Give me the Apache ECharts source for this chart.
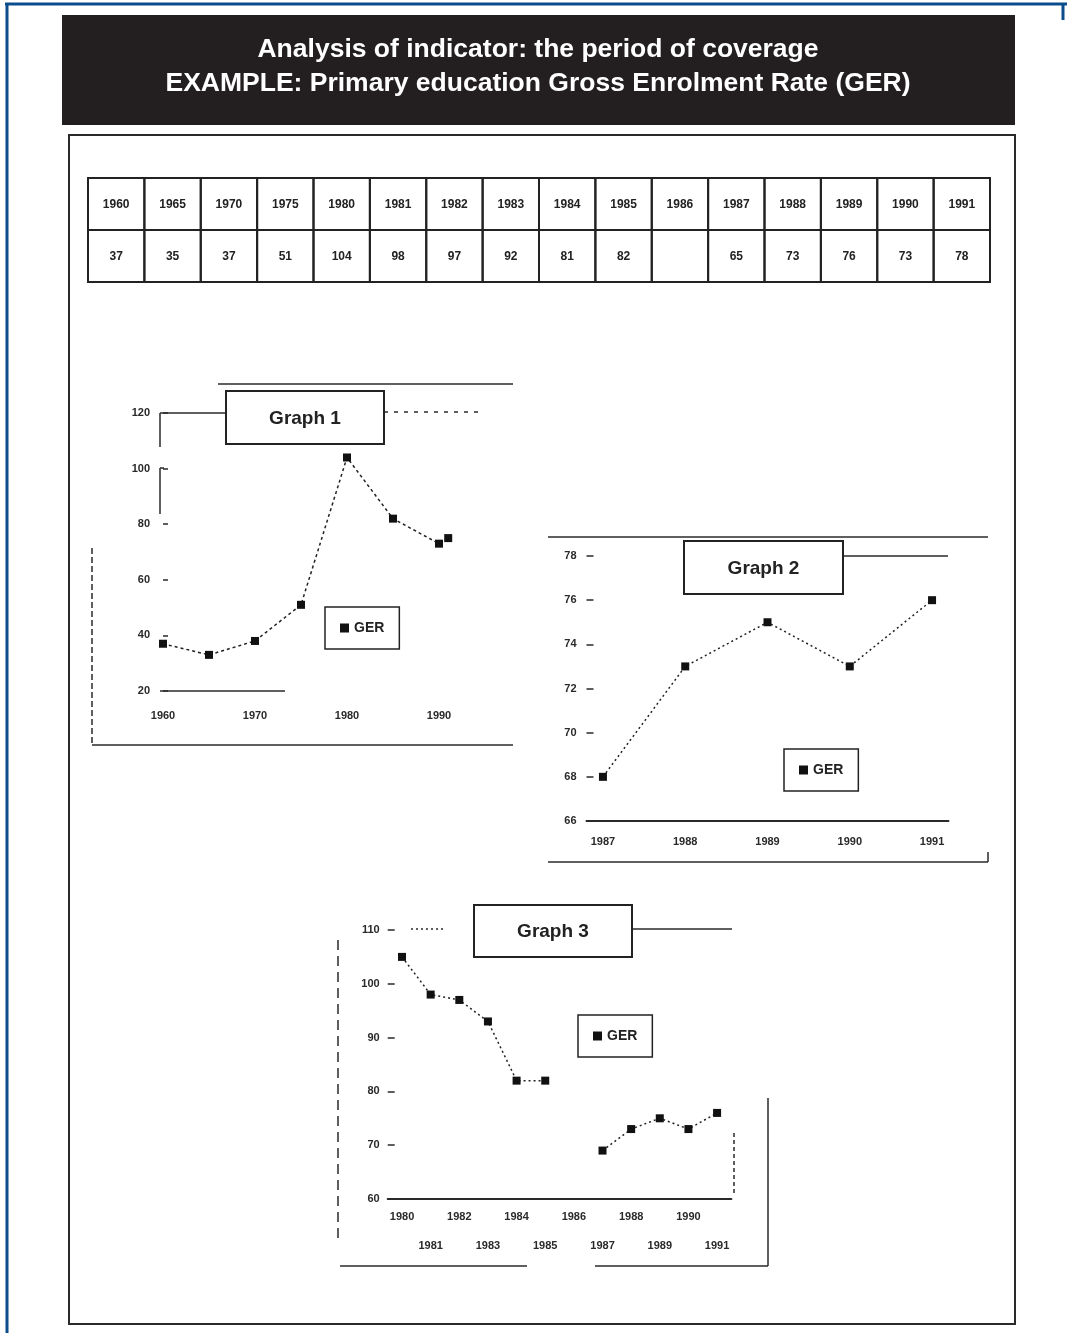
<!DOCTYPE html>
<html>
<head>
<meta charset="utf-8">
<title>Analysis of indicator: the period of coverage</title>
<script src="https://cdn.jsdelivr.net/npm/echarts@6/dist/echarts.min.js"></script>
<style>
  html, body { margin: 0; padding: 0; background: #fff; }
  #main { width: 1067px; height: 1333px; }
</style>
</head>
<body>
<div id="main"></div>
<script>
// table at the top of the sheet
var tableYears = ['1960', '1965', '1970', '1975', '1980', '1981', '1982', '1983',
  '1984', '1985', '1986', '1987', '1988', '1989', '1990', '1991'];
var tableValues = ['37', '35', '37', '51', '104', '98', '97', '92',
  '81', '82', '', '65', '73', '76', '73', '78'];

// graph 1 : 1960 - 1991
var g1Years = [1960, 1965, 1970, 1975, 1980, 1985, 1990, 1991];
var g1Values = [37, 33, 38, 51, 104, 82, 73, 75];
var g1XLabels = [1960, 1970, 1980, 1990];

// graph 2 : 1987 - 1991
var g2Years = [1987, 1988, 1989, 1990, 1991];
var g2Values = [68, 73, 75, 73, 76];

// graph 3 : 1980 - 1991 (1986 missing)
var g3Years = [1980, 1981, 1982, 1983, 1984, 1985, 1986, 1987, 1988, 1989, 1990, 1991];
var g3Values = [105, 98, 97, 93, 82, 82, null, 69, 73, 75, 73, 76];

var FONT = '"Liberation Sans", Arial, sans-serif';
var INK = '#222';

function pairs(xs, ys) {
  return xs.map(function (x, i) { return [x, ys[i]]; });
}

function ln(x1, y1, x2, y2, w, dash, color) {
  return {
    type: 'line', silent: true, z: 5,
    shape: { x1: x1, y1: y1, x2: x2, y2: y2 },
    style: { stroke: color || '#2a2a2a', lineWidth: w || 1.5, lineDash: dash || null }
  };
}

function box(x, y, w, h, label) {
  return [
    { type: 'rect', silent: true, z: 6, shape: { x: x, y: y, width: w, height: h },
      style: { fill: '#fff', stroke: INK, lineWidth: 2 } },
    { type: 'text', silent: true, z: 7,
      style: { text: label, x: x + w / 2, y: y + h / 2 + 1, align: 'center', verticalAlign: 'middle',
        font: 'bold 19px ' + FONT, fill: INK } }
  ];
}

var graphics = [];
// blue outer frame
graphics.push(ln(5, 4, 1067, 4, 3, null, '#0b4c8c'));
graphics.push(ln(7, 4, 7, 1333, 3, null, '#0b4c8c'));
graphics.push(ln(1063, 4, 1063, 20, 3, null, '#0b4c8c'));
// dark header
graphics.push({ type: 'rect', silent: true, z: 4, shape: { x: 62, y: 15, width: 953, height: 110 },
  style: { fill: '#231f20' } });
graphics.push({ type: 'text', silent: true, z: 5,
  style: { text: 'Analysis of indicator: the period of coverage', x: 538, y: 50,
    align: 'center', verticalAlign: 'middle', font: 'bold 26.5px ' + FONT, fill: '#fff' } });
graphics.push({ type: 'text', silent: true, z: 5,
  style: { text: 'EXAMPLE: Primary education Gross Enrolment Rate (GER)', x: 538, y: 84,
    align: 'center', verticalAlign: 'middle', font: 'bold 26.5px ' + FONT, fill: '#fff' } });
// inner frame
graphics.push({ type: 'rect', silent: true, z: 4, shape: { x: 69, y: 135, width: 946, height: 1189 },
  style: { fill: null, stroke: '#2a2a2a', lineWidth: 2 } });

// table
var tx = 88, tw = (990 - 88) / tableYears.length;
tableYears.forEach(function (yr, i) {
  var x = tx + i * tw;
  graphics.push({ type: 'rect', silent: true, z: 5, shape: { x: x, y: 178, width: tw, height: 52 },
    style: { fill: null, stroke: INK, lineWidth: 2 } });
  graphics.push({ type: 'rect', silent: true, z: 5, shape: { x: x, y: 230, width: tw, height: 52 },
    style: { fill: null, stroke: INK, lineWidth: 2 } });
  graphics.push({ type: 'text', silent: true, z: 6,
    style: { text: yr, x: x + tw / 2, y: 205, align: 'center', verticalAlign: 'middle',
      font: 'bold 12px ' + FONT, fill: INK } });
  graphics.push({ type: 'text', silent: true, z: 6,
    style: { text: tableValues[i], x: x + tw / 2, y: 257, align: 'center', verticalAlign: 'middle',
      font: 'bold 12px ' + FONT, fill: INK } });
});

// graph 1 decorations
graphics.push(ln(218, 384, 513, 384));
graphics.push(ln(160, 413, 226, 413));
graphics.push(ln(160, 413, 160, 447));
graphics.push(ln(160, 468, 164, 468));
graphics.push(ln(160, 468, 160, 514));
graphics.push(ln(384, 412, 480, 412, 1.5, [4, 6]));
graphics.push(ln(92, 548, 92, 745, 1.5, [6, 3]));
graphics.push(ln(92, 745, 513, 745));
graphics.push(ln(160, 691, 285, 691));
graphics = graphics.concat(box(226, 391, 158, 53, 'Graph 1'));

// graph 2 decorations
graphics.push(ln(548, 537, 988, 537));
graphics.push(ln(843, 556, 948, 556));
graphics.push(ln(548, 862, 988, 862));
graphics.push(ln(988, 852, 988, 862));
graphics = graphics.concat(box(684, 541, 159, 53, 'Graph 2'));

// graph 3 decorations
graphics.push(ln(632, 929, 732, 929));
graphics.push(ln(411, 929, 443, 929, 1.5, [2, 3]));
graphics.push(ln(338, 940, 338, 1240, 1.5, [10, 6]));
graphics.push(ln(768, 1098, 768, 1266));
graphics.push(ln(340, 1266, 527, 1266));
graphics.push(ln(595, 1266, 768, 1266));
graphics.push(ln(734, 1133, 734, 1195, 1.5, [4, 3]));
graphics = graphics.concat(box(474, 905, 158, 52, 'Graph 3'));

var yearFmt = function (v) { return String(v); };

var lineSeries = function (idx, data, dash) {
  return {
    name: 'GER', type: 'line', xAxisIndex: idx, yAxisIndex: idx,
    data: data, symbol: 'rect', symbolSize: 8, connectNulls: false,
    itemStyle: { color: '#111' },
    lineStyle: { color: '#222', width: 1.5, type: dash },
    z: 3
  };
};

var legendBase = function (left, top) {
  return {
    data: ['GER'], left: left, top: top, orient: 'horizontal',
    icon: 'rect', itemWidth: 9, itemHeight: 9,
    padding: [14, 15], borderColor: INK, borderWidth: 1.5, backgroundColor: '#fff',
    textStyle: { fontFamily: FONT, fontWeight: 'bold', fontSize: 14, color: INK },
    selectedMode: false
  };
};

var axisText = { fontFamily: FONT, fontWeight: 'bold', fontSize: 11, color: '#2a2a2a' };

var option = {
  animation: false,
  backgroundColor: '#fff',
  textStyle: { fontFamily: FONT },
  graphic: graphics,
  legend: [legendBase(325, 607), legendBase(784, 749), legendBase(578, 1015)],
  grid: [
    { left: 163, top: 413, width: 322, height: 278, outerBoundsMode: 'none' },
    { left: 586.5, top: 556, width: 362, height: 265, outerBoundsMode: 'none' },
    { left: 387.7, top: 930, width: 343.7, height: 269, outerBoundsMode: 'none' }
  ],
  xAxis: [
    { gridIndex: 0, type: 'value', min: 1960, max: 1995,
      axisLine: { show: false }, axisTick: { show: false }, splitLine: { show: false },
      axisLabel: Object.assign({ customValues: g1XLabels, formatter: yearFmt, margin: 19 }, axisText) },
    { gridIndex: 1, type: 'value', min: 1986.8, max: 1991.2,
      axisLine: { show: true, lineStyle: { color: '#2a2a2a', width: 2 } },
      axisTick: { show: false }, splitLine: { show: false },
      axisLabel: Object.assign({ customValues: g2Years, formatter: yearFmt, margin: 15 }, axisText) },
    { gridIndex: 2, type: 'value', min: 1979.5, max: 1991.5,
      axisLine: { show: true, lineStyle: { color: '#2a2a2a', width: 2 } },
      axisTick: { show: false }, splitLine: { show: false },
      axisLabel: Object.assign({
        customValues: g3Years, margin: 3, lineHeight: 29,
        formatter: function (v) { return v % 2 ? '\n' + v : String(v); }
      }, axisText) }
  ],
  yAxis: [
    { gridIndex: 0, type: 'value', min: 20, max: 120, interval: 20,
      axisLine: { show: false }, splitLine: { show: false },
      axisTick: { show: true, inside: true, length: 5, lineStyle: { color: '#2a2a2a', width: 1.5 } },
      axisLabel: Object.assign({ margin: 13 }, axisText) },
    { gridIndex: 1, type: 'value', min: 66, max: 78, interval: 2,
      axisLine: { show: false }, splitLine: { show: false },
      axisTick: { show: true, inside: true, length: 7, lineStyle: { color: '#2a2a2a', width: 1.5 } },
      axisLabel: Object.assign({ margin: 10 }, axisText) },
    { gridIndex: 2, type: 'value', min: 60, max: 110, interval: 10,
      axisLine: { show: false }, splitLine: { show: false },
      axisTick: { show: true, inside: true, length: 7, lineStyle: { color: '#2a2a2a', width: 1.5 } },
      axisLabel: Object.assign({ margin: 8 }, axisText) }
  ],
  series: [
    lineSeries(0, pairs(g1Years, g1Values), [3, 3]),
    lineSeries(1, pairs(g2Years, g2Values), [2, 3]),
    lineSeries(2, pairs(g3Years, g3Values), [2, 3])
  ]
};

var chart = echarts.init(document.getElementById('main'));
chart.setOption(option);
</script>
</body>
</html>
